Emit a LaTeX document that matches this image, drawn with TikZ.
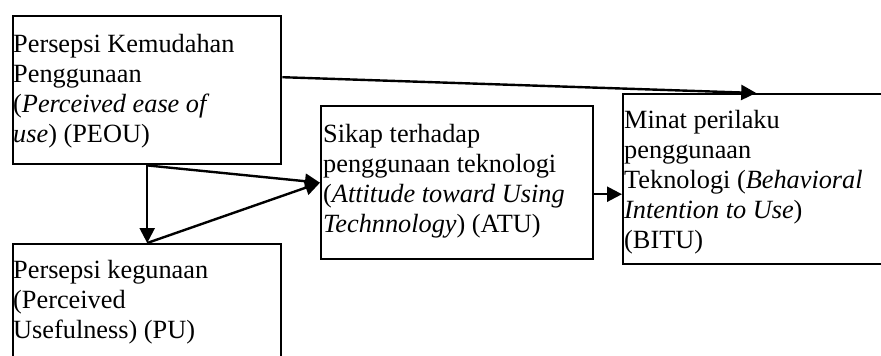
\documentclass[tikz,border=0pt]{standalone}
\usepackage{fontspec}
\setmainfont{Liberation Serif}
\usetikzlibrary{arrows.meta,calc}
\begin{document}
\begin{tikzpicture}[x=1pt,y=-1pt,
  box/.style={draw, line width=2.4pt, inner sep=0pt, anchor=north west},
  txt/.style={anchor=base west, inner sep=0pt, font=\fontsize{26.3}{30}\selectfont},
  arr/.style={line width=2.4pt, -{Triangle[length=15pt,width=15pt]}}]
\useasboundingbox (0,0) rectangle (881,356);
% boxes
\node[box, minimum width=268pt, minimum height=148pt] (peou) at (12,15) {};
\node[box, minimum width=268pt, minimum height=150pt] (pu) at (12,243) {};
\node[box, minimum width=272pt, minimum height=153pt] (atu) at (320,105) {};
\node[box, minimum width=266pt, minimum height=170pt] (bitu) at (622,93) {};
% texts
\node[txt] (tpeou) at (13,52) {\begin{tabular}[t]{@{}l@{}}Persepsi Kemudahan\\ Penggunaan\\ (\textit{Perceived ease of}\\ \textit{use}) (PEOU)\end{tabular}};
\node[txt] (tpu) at (13,278) {\begin{tabular}[t]{@{}l@{}}Persepsi kegunaan\\ (Perceived\\ Usefulness) (PU)\end{tabular}};
\node[txt] (tatu) at (323,142) {\begin{tabular}[t]{@{}l@{}}Sikap terhadap\\ penggunaan teknologi\\ (\textit{Attitude toward Using}\\ \textit{Technnology}) (ATU)\end{tabular}};
\node[txt] (tbitu) at (624,128) {\begin{tabular}[t]{@{}l@{}}Minat perilaku\\ penggunaan\\ Teknologi (\textit{Behavioral}\\ \textit{Intention to Use})\\ (BITU)\end{tabular}};
% connectors
\coordinate (pstart) at ($(peou.east)+(0,-13)$);
\coordinate (astart) at ($(atu.east)+(0,11.5)$);
\draw[arr] (pstart) -- (bitu.north);
\draw[arr] (peou.south) -- (pu.north);
\draw[arr] (peou.south) -- (atu.west);
\draw[arr] (pu.north) -- (atu.west);
\draw[arr] (astart) -- (astart -| bitu.west);
\end{tikzpicture}
\end{document}
